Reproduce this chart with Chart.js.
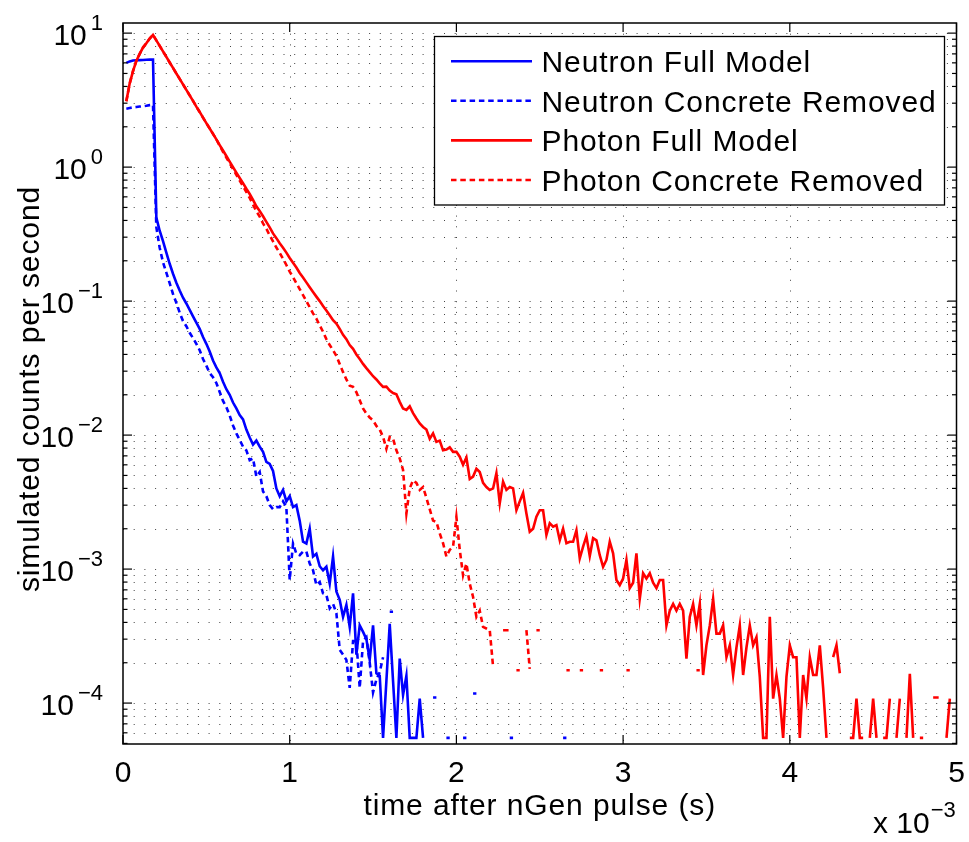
<!DOCTYPE html>
<html>
<head>
<meta charset="utf-8">
<script src="https://cdn.jsdelivr.net/npm/chart.js@4.4.0/dist/chart.umd.min.js"></script>
<style>
  html, body { margin: 0; padding: 0; background: #fff; }
  #wrap { width: 969px; height: 842px; }
</style>
</head>
<body>
<div id="wrap"><canvas id="myChart" width="969" height="842"></canvas></div>
<script>
// empty bin (zero counts -> not drawn on a log axis)
var _ = null;

// time bins, in units of 1e-3 s (bin width 20 us)
var binWidth = 0.02;
var times = [];
for (var i = 1; i <= 250; i++) times.push(+(i * binWidth).toFixed(2));

// one row = 10 bins = 0.2e-3 s
var neutronFull = [
  6.0, 6.15, 6.25, 6.27, 6.29, 6.3, 6.32, 6.34, 6.35, 0.42,
  0.335, 0.28, 0.23, 0.19, 0.16, 0.137, 0.12, 0.106, 0.096, 0.086,
  0.077, 0.069, 0.062, 0.054, 0.048, 0.042, 0.036, 0.032, 0.029, 0.025,
  0.022, 0.02, 0.0175, 0.0158, 0.0141, 0.0131, 0.011, 0.0096, 0.0085, 0.0091,
  0.0082, 0.0075, 0.0063, 0.0061, 0.0054, 0.004, 0.0035, 0.0039, 0.0032, 0.0035,
  0.0029, 0.003, 0.0023, 0.0016, 0.00155, 0.002, 0.00124, 0.0013, 0.00105, 0.00098,
  0.00104, 0.00078, 0.00124, 0.00068, 0.00059, 0.00044, 0.00054, 0.00037, 0.00066, 0.00023,
  0.00038, 0.00034, 0.0003, 0.00021, 0.00038, 0.000167, 0.00016, 5.5e-5, 1.46e-4, 3.9e-4,
  1.46e-4, 5.5e-5, 2.15e-4, 1.15e-4, 1.6e-4, 5.5e-5, 5.5e-5, 5.5e-5, 1.08e-4, 5.5e-5
];

var neutronRemoved = [
  2.73, 2.76, 2.79, 2.81, 2.83, 2.85, 2.87, 2.9, 2.92, 0.356,
  0.25, 0.195, 0.163, 0.136, 0.113, 0.097, 0.082, 0.071, 0.065, 0.058,
  0.053, 0.048, 0.043, 0.037, 0.033, 0.029, 0.027, 0.0245, 0.021, 0.018,
  0.0162, 0.014, 0.0118, 0.0103, 0.0092, 0.0082, 0.0077, 0.0065, 0.0067, 0.0049,
  0.0053, 0.0038, 0.0035, 0.003, 0.0028, 0.0029, 0.0029, 0.0032, 0.0029, 0.00083,
  0.00155, 0.0013, 0.00127, 0.00135, 0.00135, 0.0011, 0.00098, 0.00076, 0.0008, 0.00066,
  0.00064, 0.00051, 0.00055, 0.00047, 0.00025, 0.00023, 0.00021, 0.00013, 0.00029, 0.00029,
  0.00013, 0.00029, 0.00031, 0.0002, 0.00012, 0.00015, 0.00017, 0.00022, _, 0.00048,
  0.00048, _, _, _, _, _, _, _, _, _,
  _, _, 1.1e-4, 1.1e-4, _, _, 5.5e-5, 5.5e-5, _, _,
  _, 5.5e-5, 5.5e-5, _, 1.18e-4, 1.18e-4, _, _, _, _,
  _, _, _, _, _, 5.5e-5, 5.5e-5, _, _, _,
  _, _, _, _, _, _, _, _, _, _,
  _, 5.5e-5, 5.5e-5
];

var photonFull = [
  3.1, 4.2, 5.2, 6.2, 7.0, 7.8, 8.4, 9.1, 9.7, 8.83,
  8.03, 7.31, 6.65, 6.04, 5.5, 5.0, 4.55, 4.14, 3.77, 3.43,
  3.12, 2.83, 2.58, 2.34, 2.13, 1.94, 1.77, 1.61, 1.46, 1.33,
  1.21, 1.1, 1.0, 0.91, 0.83, 0.76, 0.69, 0.63, 0.57, 0.51,
  0.47, 0.43, 0.39, 0.355, 0.32, 0.295, 0.27, 0.25, 0.23, 0.21,
  0.193, 0.178, 0.162, 0.15, 0.138, 0.127, 0.117, 0.108, 0.1, 0.092,
  0.085, 0.0785, 0.072, 0.068, 0.062, 0.056, 0.052, 0.047, 0.044, 0.04,
  0.037, 0.034, 0.0316, 0.0295, 0.0275, 0.026, 0.0243, 0.0229, 0.023, 0.0215,
  0.0206, 0.0202, 0.0177, 0.0158, 0.0154, 0.0164, 0.0146, 0.0133, 0.0122, 0.0115,
  0.011, 0.0094, 0.0103, 0.0089, 0.0091, 0.0077, 0.0078, 0.0081, 0.0075, 0.0075,
  0.0069, 0.006, 0.0068, 0.0047, 0.0049, 0.0056, 0.0053, 0.0044, 0.0041, 0.0039,
  0.004, 0.0052, 0.0031, 0.0045, 0.0039, 0.0041, 0.004, 0.00275, 0.0032, 0.0037,
  0.0026, 0.0019, 0.002, 0.00246, 0.00275, 0.00275, 0.0018, 0.0022, 0.00207, 0.00213,
  0.00164, 0.002, 0.00156, 0.0016, 0.0016, 0.00195, 0.0012, 0.00147, 0.00176, 0.00125,
  0.0017, 0.00164, 0.00127, 0.00104, 0.00117, 0.0016, 0.00131, 0.00083, 0.00076, 0.00085,
  0.00117, 0.00072, 0.00079, 0.00131, 0.0006, 0.00093, 0.00085, 0.00093, 0.00079, 0.00072,
  0.00083, 0.00083, 0.00038, 0.00049, 0.00055, 0.00049, 0.00055, 0.00049, 0.000215, 0.00044,
  0.00055, 0.00038, 0.00055, 0.000162, 0.00027, 0.00038, 0.0006, 0.00033, 0.00033, 0.00038,
  0.00022, 0.00027, 0.000162, 0.00026, 0.00038, 0.000162, 0.00026, 0.00038, 0.00027, 0.00031,
  0.000157, 5.5e-5, 5.5e-5, 0.00044, 0.000108, 0.000162, 0.000108, 5.5e-5, 0.000157, 0.00027,
  0.00022, 0.00022, 5.5e-5, 0.000162, 0.000108, 0.00022, 0.000162, 0.000162, 0.00027, 0.00013,
  5.5e-5, _, 0.00022, 0.00027, 0.000167, _, _, 5.5e-5, 5.5e-5, 0.000108,
  5.5e-5, 5.5e-5, _, 5.5e-5, 0.000108, 5.5e-5, _, 5.5e-5, 5.5e-5, 0.000108,
  _, 5.5e-5, 0.000108, _, 5.5e-5, 0.000165, 5.5e-5, _, _, _,
  _, _, _, _, _, _, 5.5e-5, 0.000108
];

var photonRemoved = [
  3.1, 4.2, 5.2, 6.2, 7.0, 7.8, 8.4, 9.1, 9.7, 8.83,
  8.03, 7.31, 6.65, 6.04, 5.5, 5.0, 4.55, 4.14, 3.77, 3.43,
  3.12, 2.83, 2.58, 2.34, 2.13, 1.94, 1.77, 1.61, 1.445, 1.3,
  1.18, 1.07, 0.966, 0.877, 0.794, 0.719, 0.652, 0.589, 0.525, 0.468,
  0.427, 0.38, 0.347, 0.309, 0.279, 0.251, 0.229, 0.207, 0.186, 0.166,
  0.151, 0.136, 0.123, 0.111, 0.1, 0.09, 0.081, 0.074, 0.066, 0.059,
  0.052, 0.047, 0.043, 0.039, 0.034, 0.0295, 0.026, 0.0234, 0.0229, 0.0209,
  0.0182, 0.0158, 0.0145, 0.0135, 0.0129, 0.0117, 0.011, 0.0097, 0.0079, 0.0097,
  0.0094, 0.0077, 0.0067, 0.0055, 0.0026, 0.004, 0.0046, 0.0044, 0.0039, 0.0041,
  0.0034, 0.0028, 0.0023, 0.00225, 0.00185, 0.00156, 0.00124, 0.00139, 0.00147, 0.00245,
  0.0014, 0.0009, 0.0011, 0.00078, 0.00062, 0.00044, 0.00049, 0.00037, 0.00036, 0.00035,
  0.000187, _, _, 0.00035, 0.00035, 0.00035, _, 0.000176, 0.000176, _,
  0.00035, 0.00018, _, 0.00035, 0.00035, _, _, _, _, _,
  _, _, 0.000176, 0.000176, _, _, 0.000176, 0.000176, _, _,
  _, _, 0.000176, 0.000176, _, _, _, _, _, _,
  0.000176, 0.000176, _, _, _, _, _, _, _, _,
  _, _, _, _, _, _, _, _, _, _,
  _, 0.000176, 0.000176, _, _, _, _, _, _, _,
  _, _, _, _, _, _, _, _, _, _,
  _, _, _, _, _, _, _, _, _, _,
  _, _, _, _, _, _, _, _, _, _,
  _, _, _, _, _, _, _, _, _, _,
  _, _, _, _, _, _, _, _, _, _,
  _, _, _, _, _, _, _, _, 5.5e-5, 5.5e-5,
  _, _, 0.00011, 0.00011, 0.00011
];

var seriesLabels = ['Neutron Full Model', 'Neutron Concrete Removed', 'Photon Full Model', 'Photon Concrete Removed'];
var xTickValues = [0, 1, 2, 3, 4, 5];
var yTickExponents = [-4, -3, -2, -1, 0, 1];
var xMultiplier = '\u22123';

var FONT_FAMILY = '"Liberation Sans", Arial, Helvetica, sans-serif';
var FONT = '30px ' + FONT_FAMILY;
var SUP_FONT = '22px ' + FONT_FAMILY;
var DOTTED = [5.5, 3.8];

function toPoints(values) {
  return values.map(function(v, i) { return { x: times[i], y: v }; });
}

function strokeLine(ctx, x1, y1, x2, y2) {
  ctx.beginPath();
  ctx.moveTo(x1, y1);
  ctx.lineTo(x2, y2);
  ctx.stroke();
}

// every 1..9 x 10^n inside the y range
function logGridValues(scale) {
  var out = [];
  for (var e = -5; e <= 1; e++) {
    for (var m = 1; m <= 9; m++) {
      var v = m * Math.pow(10, e);
      if (v >= scale.min && v <= scale.max) out.push({ v: v, major: m === 1 });
    }
  }
  return out;
}

// matlab-like axes: dotted grid, inward ticks, box, labels, boxed legend
var axesPlugin = {
  id: 'matlabAxes',
  beforeDraw: function(chart) {
    var ctx = chart.ctx;
    ctx.save();
    ctx.fillStyle = '#ffffff';
    ctx.fillRect(0, 0, chart.width, chart.height);
    ctx.restore();
  },
  beforeDatasetsDraw: function(chart) {
    var ctx = chart.ctx, a = chart.chartArea;
    var xs = chart.scales.x, ys = chart.scales.y;
    ctx.save();
    ctx.strokeStyle = '#444444';
    ctx.lineWidth = 1;
    ctx.setLineDash([1, 9.7]);
    logGridValues(ys).forEach(function(g) {
      var y = Math.round(ys.getPixelForValue(g.v)) + 0.5;
      if (y <= a.top + 1 || y >= a.bottom - 1) return;
      strokeLine(ctx, a.left, y, a.right, y);
    });
    xTickValues.forEach(function(t) {
      var x = Math.round(xs.getPixelForValue(t)) + 0.5;
      if (x <= a.left + 1 || x >= a.right - 1) return;
      strokeLine(ctx, x, a.top, x, a.bottom);
    });
    ctx.restore();
  },
  afterDatasetsDraw: function(chart) {
    var ctx = chart.ctx, a = chart.chartArea;
    var xs = chart.scales.x, ys = chart.scales.y;
    ctx.save();
    ctx.strokeStyle = '#000';
    ctx.fillStyle = '#000';
    ctx.setLineDash([]);

    // ticks
    ctx.lineWidth = 1.2;
    logGridValues(ys).forEach(function(g) {
      var y = ys.getPixelForValue(g.v);
      var len = g.major ? 9 : 4.5;
      strokeLine(ctx, a.left, y, a.left + len, y);
      strokeLine(ctx, a.right, y, a.right - len, y);
    });
    xTickValues.forEach(function(t) {
      var x = xs.getPixelForValue(t);
      strokeLine(ctx, x, a.bottom, x, a.bottom - 9);
      strokeLine(ctx, x, a.top, x, a.top + 9);
    });

    // box
    ctx.lineWidth = 1.5;
    ctx.strokeRect(a.left, a.top, a.right - a.left, a.bottom - a.top);

    // x tick labels
    ctx.font = FONT;
    ctx.textAlign = 'center';
    ctx.textBaseline = 'alphabetic';
    xTickValues.forEach(function(t) {
      ctx.fillText(String(t), xs.getPixelForValue(t), a.bottom + 38);
    });

    // y tick labels 10^n
    yTickExponents.forEach(function(e) {
      var y = ys.getPixelForValue(Math.pow(10, e));
      var sup = e < 0 ? '\u2212' + (-e) : String(e);
      ctx.font = SUP_FONT;
      var supX = a.left - 20 - ctx.measureText(sup).width;
      ctx.textAlign = 'left';
      ctx.fillText(sup, supX, y - 3.5);
      ctx.font = FONT;
      ctx.textAlign = 'right';
      ctx.fillText('10', supX - 4, y + 11.5);
    });

    // x multiplier
    ctx.font = FONT;
    ctx.textAlign = 'left';
    var mx = a.right - 83.5;
    ctx.fillText('x 10', mx, a.bottom + 89);
    var mw = ctx.measureText('x 10').width;
    ctx.font = SUP_FONT;
    ctx.fillText(xMultiplier, mx + mw + 1, a.bottom + 73);

    // axis titles
    ctx.font = FONT;
    ctx.letterSpacing = '0.9px';
    ctx.textAlign = 'center';
    ctx.fillText('time after nGen pulse (s)', (a.left + a.right) / 2, a.bottom + 70.5);
    ctx.save();
    ctx.translate(38.5, 389);
    ctx.rotate(-Math.PI / 2);
    ctx.fillText('simulated counts per second', 0, 0);
    ctx.restore();

    // legend
    var lg = { left: 434.5, top: 36.5, right: 944.5, bottom: 205 };
    ctx.fillStyle = '#fff';
    ctx.fillRect(lg.left, lg.top, lg.right - lg.left, lg.bottom - lg.top);
    ctx.lineWidth = 1.3;
    ctx.strokeRect(lg.left, lg.top, lg.right - lg.left, lg.bottom - lg.top);
    ctx.textAlign = 'left';
    chart.data.datasets.forEach(function(ds, k) {
      var ry = 61.2 + 39.6 * k;
      ctx.strokeStyle = ds.borderColor;
      ctx.lineWidth = ds.borderWidth;
      ctx.setLineDash(ds.borderDash || []);
      strokeLine(ctx, 451, ry, 532, ry);
      ctx.setLineDash([]);
      ctx.fillStyle = '#000';
      ctx.fillText(ds.label, 541.5, ry + 10.7);
    });
    ctx.letterSpacing = '0px';
    ctx.restore();
  }
};

var data = {
  datasets: [
    { label: seriesLabels[0], data: toPoints(neutronFull), borderColor: '#0000ff', borderDash: [], order: 4 },
    { label: seriesLabels[1], data: toPoints(neutronRemoved), borderColor: '#0000ff', borderDash: DOTTED, order: 3 },
    { label: seriesLabels[2], data: toPoints(photonFull), borderColor: '#ff0000', borderDash: [], order: 2 },
    { label: seriesLabels[3], data: toPoints(photonRemoved), borderColor: '#ff0000', borderDash: DOTTED, order: 1 }
  ]
};
data.datasets.forEach(function(ds) {
  ds.borderWidth = 2.6;
  ds.pointRadius = 0;
  ds.tension = 0;
  ds.spanGaps = false;
  ds.fill = false;
});

var options = {
  responsive: false,
  animation: false,
  layout: { padding: { left: 123, right: 12.5, top: 23, bottom: 98 } },
  scales: {
    x: { type: 'linear', min: 0, max: 5, display: false },
    y: { type: 'logarithmic', min: 4.95e-5, max: 11.9, display: false }
  },
  plugins: {
    legend: { display: false },
    tooltip: { enabled: false }
  }
};

document.addEventListener("DOMContentLoaded", function(event) {
  var ctx = document.getElementById('myChart').getContext('2d');
  var myLineChart = new Chart(ctx, {
    type: 'line',
    data: data,
    options: options,
    plugins: [axesPlugin]
  });
});
</script>
</body>
</html>
